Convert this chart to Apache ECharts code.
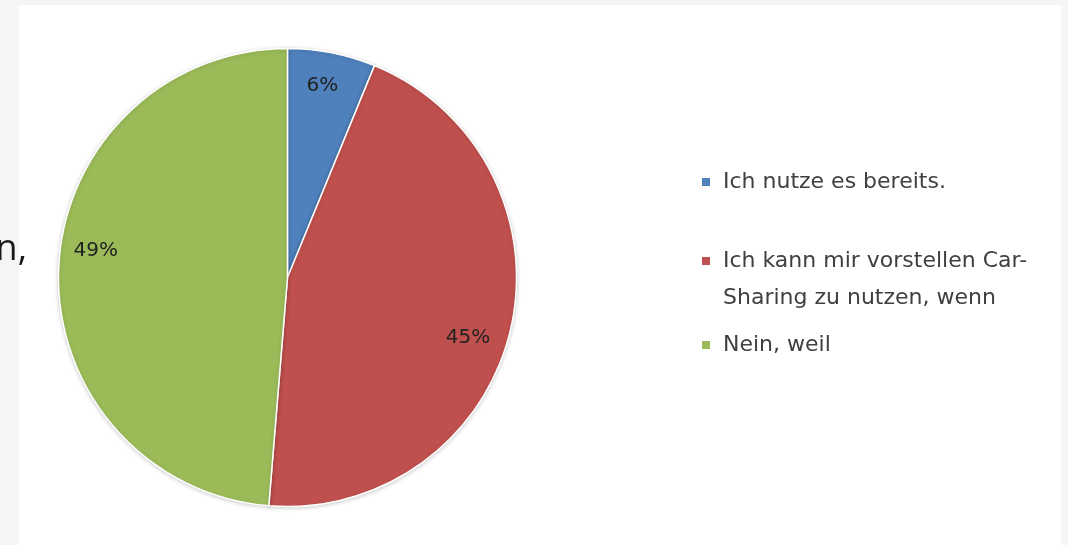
<!DOCTYPE html>
<html>
<head>
<meta charset="utf-8">
<script src="https://cdn.jsdelivr.net/npm/echarts@6/dist/echarts.min.js"></script>
<style>
html,body{margin:0;padding:0;background:#f5f5f5;}
#c{width:1068px;height:545px;}
</style>
</head>
<body>
<div id="c"></div>
<script>
// Data
const categories = ['Ich nutze es bereits.', 'Ich kann mir vorstellen Car-\nSharing zu nutzen, wenn', 'Nein, weil'];
const shares = [6.2, 45.1, 48.7];

// Style
const sliceColors = ['#4f81bd', '#c0504d', '#9bbb59'];
const legendCenters = [182, 261, 345];
const labelNudge = [[-3, 1], [-10, 15], [4, -19]];
const LH = 37;

const chart = echarts.init(document.getElementById('c'), null, {renderer: 'canvas'});
const pieData = categories.map((n, i) => ({name: n, value: shares[i]}));

const legends = categories.map((name, i) => {
  const lines = name.split('\n').length;
  const boxLines = lines > 1 ? 2 * lines - 1 : 1;
  return {
    data: [name],
    left: 700,
    top: legendCenters[i] - boxLines * LH / 2,
    orient: 'vertical',
    padding: 0,
    icon: 'rect',
    itemWidth: 10,
    itemHeight: 10,
    selectedMode: false,
    formatter: n => (lines > 1 ? '\n'.repeat(lines - 1) : '') + n,
    textStyle: {
      fontFamily: 'DejaVu Sans',
      fontSize: 22,
      color: '#404040',
      lineHeight: LH,
      padding: [0, 0, 0, 7]
    }
  };
});

const labelData = pieData.map((d, i) => ({
  name: d.name,
  value: d.value,
  label: {offset: labelNudge[i]}
}));

chart.setOption({
  backgroundColor: '#f5f5f5',
  color: sliceColors,
  animation: false,
  graphic: [
    {type: 'rect', left: 19, top: 5, z: -10, shape: {width: 1042, height: 545}, style: {fill: '#ffffff'}},
    {type: 'text', x: 27, y: 268, z: 10, style: {text: 'n,', font: '36px "Open Sans"', fill: '#1a1a1a', textAlign: 'right', textVerticalAlign: 'bottom'}}
  ],
  legend: legends,
  series: [
    {
      type: 'pie',
      center: [287.5, 277.5],
      radius: [0, 229],
      startAngle: 90,
      clockwise: true,
      silent: true,
      label: {show: false},
      labelLine: {show: false},
      itemStyle: {borderColor: '#ffffff', borderWidth: 1.5, shadowBlur: 4, shadowColor: 'rgba(0,0,0,0.18)', shadowOffsetY: 1},
      emphasis: {disabled: true},
      data: pieData
    },
    {
      type: 'pie',
      center: [287.5, 277.5],
      radius: [0, 386],
      startAngle: 90,
      clockwise: true,
      silent: true,
      z: 5,
      itemStyle: {color: 'rgba(0,0,0,0)', borderWidth: 0},
      labelLine: {show: false},
      emphasis: {disabled: true},
      label: {
        show: true,
        position: 'inside',
        fontFamily: 'DejaVu Sans',
        fontSize: 20,
        color: '#222222',
        formatter: p => Math.round(p.value) + '%'
      },
      data: labelData
    }
  ]
});
</script>
</body>
</html>
